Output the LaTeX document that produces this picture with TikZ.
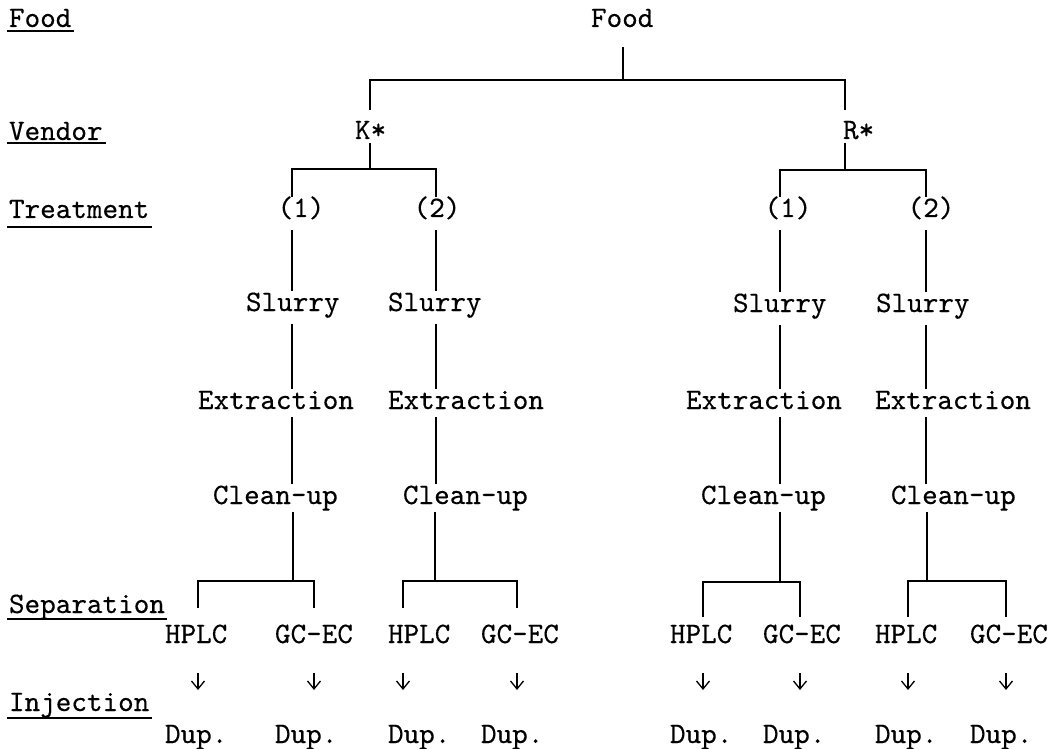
\documentclass[tikz,border=0pt]{standalone}
\usepackage{fontspec}
\newfontfamily\tw{lmmono10-regular.otf}[FakeBold=0.35]
\usetikzlibrary{arrows.meta}
\begin{document}
\begin{tikzpicture}[x=1pt,y=-1pt,
  txt/.style={font=\tw\fontsize{29.7}{34}\selectfont, inner sep=0pt, outer xsep=0pt, outer ysep=3pt,
              text height=17pt, text depth=5pt, anchor=base west},
  ctxt/.style={txt, anchor=base},
  ln/.style={line width=1.3pt},
  arr/.style={line width=1.3pt, -{Straight Barb[length=8pt,width=13pt,line width=1.3pt]},
              shorten <=22pt, shorten >=33pt}]
\useasboundingbox (0,0) rectangle (1053,749);

% ---------- left-hand level labels ----------
\node[txt] (lfood) at (9,27)  {Food};
\node[txt] (lvend) at (9,140) {Vendor};
\node[txt] (ltreat) at (9,218) {Treatment};
\node[txt] (lsep) at (9,613) {Separation};
\node[txt] (linj) at (9,711) {Injection};
\draw[ln] ([shift={(-2,4)}]lfood.base west) -- ([shift={(3,4)}]lfood.base east);
\draw[ln] ([shift={(-2,3)}]lvend.base west) -- ([shift={(3,3)}]lvend.base east);
\draw[ln] ([shift={(-2,9)}]ltreat.base west) -- ([shift={(3,9)}]ltreat.base east);
\draw[ln] ([shift={(-2,6)}]lsep.base west) -- ([shift={(2,6)}]lsep.base east);
\draw[ln] ([shift={(-2,7)}]linj.base west) -- ([shift={(3,7)}]linj.base east);

% ---------- tree texts ----------
\node[txt] (food) at (591,27) {Food};
\node[txt] (ks) at (355,139) {K*};
\node[txt] (rs) at (843,139) {R*};

\node[ctxt] (k1) at (301,217) {(1)};
\node[ctxt] (k2) at (437,217) {(2)};
\node[ctxt] (r1) at (788,217) {(1)};
\node[ctxt] (r2) at (931,217) {(2)};

\node[txt] (k1s) at (246,311) {Slurry};
\node[txt] (k2s) at (388,311) {Slurry};
\node[txt] (r1s) at (733,312) {Slurry};
\node[txt] (r2s) at (876,312) {Slurry};

\node[txt] (k1e) at (198,409) {Extraction};
\node[txt] (k2e) at (388,409) {Extraction};
\node[txt] (r1e) at (686,409) {Extraction};
\node[txt] (r2e) at (875,409) {Extraction};

\node[txt] (k1c) at (213,504) {Clean-up};
\node[txt] (k2c) at (403,504) {Clean-up};
\node[txt] (r1c) at (701,504) {Clean-up};
\node[txt] (r2c) at (891,504) {Clean-up};

\node[txt] (k1h) at (165,643) {HPLC};
\node[txt] (k1g) at (275,643) {GC-EC};
\node[txt] (k2h) at (388,643) {HPLC};
\node[txt] (k2g) at (481,643) {GC-EC};
\node[txt] (r1h) at (670,643) {HPLC};
\node[txt] (r1g) at (763,643) {GC-EC};
\node[txt] (r2h) at (875,643) {HPLC};
\node[txt] (r2g) at (970,643) {GC-EC};

\node[txt] (k1hd) at (165,743) {Dup.};
\node[txt] (k1gd) at (275,743) {Dup.};
\node[txt] (k2hd) at (388,743) {Dup.};
\node[txt] (k2gd) at (481,743) {Dup.};
\node[txt] (r1hd) at (670,743) {Dup.};
\node[txt] (r1gd) at (763,743) {Dup.};
\node[txt] (r2hd) at (875,743) {Dup.};
\node[txt] (r2gd) at (970,743) {Dup.};

% ---------- column and bar coordinates ----------
\coordinate (cF) at (623,80);
\coordinate (cK) at (370,0);
\coordinate (cR) at (845,0);
\coordinate (kb) at (370,169);
\coordinate (rb) at (845,170);
\coordinate (cK1) at (292,0);
\coordinate (cK2) at (436,0);
\coordinate (cR1) at (780,0);
\coordinate (cR2) at (926,0);
\coordinate (bK1) at (293,581);
\coordinate (bK2) at (435,581);
\coordinate (bR1) at (780,582);
\coordinate (bR2) at (927,581);
\coordinate (aK1h) at (198,0);
\coordinate (aK1g) at (314,0);
\coordinate (aK2h) at (403,0);
\coordinate (aK2g) at (517,0);
\coordinate (aR1h) at (703,0);
\coordinate (aR1g) at (800,0);
\coordinate (aR2h) at (908,0);
\coordinate (aR2g) at (1006,0);

% ---------- top levels ----------
\draw[ln, shorten <=12pt] (food.south -| cF) -- (cF);
\draw[ln, shorten <=9pt, shorten >=9pt] (ks.north -| cK) -- (cK |- cF) -- (cR |- cF) -- (rs.north -| cR);
\draw[ln, shorten <=-4pt] (ks.south -| cK) -- (kb);
\draw[ln, shorten <=-4pt] (rs.south -| cR) -- (rb);
\draw[ln] (k1.north -| cK1) -- (cK1 |- kb) -- (cK2 |- kb) -- (k2.north -| cK2);
\draw[ln] (r1.north -| cR1) -- (cR1 |- rb) -- (cR2 |- rb) -- (r2.north -| cR2);

% ---------- treatment chains ----------
\foreach \t/\c in {k1/cK1, k2/cK2, r1/cR1, r2/cR2}{
  \draw[ln, shorten <=5pt] (\t.south -| \c) -- (\t s.north -| \c);
  \draw[ln, shorten <=5pt] (\t s.south -| \c) -- (\t e.north -| \c);
  \draw[ln] (\t e.south -| \c) -- (\t c.north -| \c);
}
\draw[ln] (k1c.south -| bK1) -- (bK1);
\draw[ln] (k2c.south -| bK2) -- (bK2);
\draw[ln] (r1c.south -| bR1) -- (bR1);
\draw[ln] (r2c.south -| bR2) -- (bR2);

% ---------- separation brackets ----------
\draw[ln, shorten <=15pt, shorten >=15pt] (k1h.north -| aK1h) -- (aK1h |- bK1) -- (aK1g |- bK1) -- (k1g.north -| aK1g);
\draw[ln, shorten <=15pt, shorten >=15pt] (k2h.north -| aK2h) -- (aK2h |- bK2) -- (aK2g |- bK2) -- (k2g.north -| aK2g);
\draw[ln, shorten <=6pt, shorten >=6pt] (r1h.north -| aR1h) -- (aR1h |- bR1) -- (aR1g |- bR1) -- (r1g.north -| aR1g);
\draw[ln, shorten <=6pt, shorten >=6pt] (r2h.north -| aR2h) -- (aR2h |- bR2) -- (aR2g |- bR2) -- (r2g.north -| aR2g);

% ---------- injection arrows ----------
\draw[arr] (k1h.south -| aK1h) -- (k1hd.north -| aK1h);
\draw[arr] (k1g.south -| aK1g) -- (k1gd.north -| aK1g);
\draw[arr] (k2h.south -| aK2h) -- (k2hd.north -| aK2h);
\draw[arr] (k2g.south -| aK2g) -- (k2gd.north -| aK2g);
\draw[arr] (r1h.south -| aR1h) -- (r1hd.north -| aR1h);
\draw[arr] (r1g.south -| aR1g) -- (r1gd.north -| aR1g);
\draw[arr] (r2h.south -| aR2h) -- (r2hd.north -| aR2h);
\draw[arr] (r2g.south -| aR2g) -- (r2gd.north -| aR2g);
\end{tikzpicture}
\end{document}
